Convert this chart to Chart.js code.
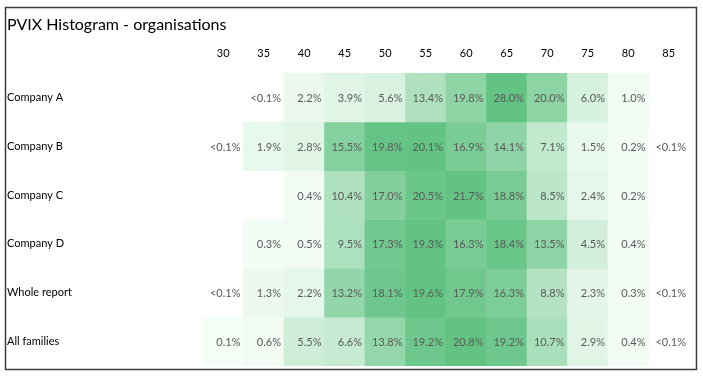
<!DOCTYPE html>
<html>
<head>
<meta charset="utf-8">
<script src="https://cdn.jsdelivr.net/npm/chart.js@4.4.1/dist/chart.umd.min.js"></script>
<style>
  html, body { margin: 0; padding: 0; background: #fff; }
</style>
</head>
<body>
<canvas id="heat" width="703" height="379"></canvas>
<script>
const buckets = ['30', '35', '40', '45', '50', '55', '60', '65', '70', '75', '80', '85'];
const rows = ['Company A', 'Company B', 'Company C', 'Company D', 'Whole report', 'All families'];

// '<0.1' = shown as text only, null = empty cell
const companyA   = [null,   '<0.1', 2.2, 3.9,  5.6,  13.4, 19.8, 28.0, 20.0, 6.0, 1.0, null];
const companyB   = ['<0.1', 1.9,    2.8, 15.5, 19.8, 20.1, 16.9, 14.1, 7.1,  1.5, 0.2, '<0.1'];
const companyC   = [null,   null,   0.4, 10.4, 17.0, 20.5, 21.7, 18.8, 8.5,  2.4, 0.2, null];
const companyD   = [null,   0.3,    0.5, 9.5,  17.3, 19.3, 16.3, 18.4, 13.5, 4.5, 0.4, null];
const wholeReport = ['<0.1', 1.3,   2.2, 13.2, 18.1, 19.6, 17.9, 16.3, 8.8,  2.3, 0.3, '<0.1'];
const allFamilies = [0.1,   0.6,    5.5, 6.6,  13.8, 19.2, 20.8, 19.2, 10.7, 2.9, 0.4, '<0.1'];

const table = [companyA, companyB, companyC, companyD, wholeReport, allFamilies];

const FONT = 'Lato, "Noto Sans", sans-serif';
const lowColor = [245, 253, 247];
const highColor = [99, 195, 131];

function cellColor(v, max) {
    const t = Math.max(0, Math.min(1, v / max));
    const c = lowColor.map((lo, k) => Math.round(lo + (highColor[k] - lo) * t));
    return `rgb(${c[0]}, ${c[1]}, ${c[2]})`;
}

const datasets = table.map((vals, i) => {
    const max = Math.max(...vals.filter(v => typeof v === 'number'));
    return {
        label: rows[i],
        data: vals.map(v => typeof v === 'number' ? [i - 0.5, i + 0.5] : null),
        backgroundColor: vals.map(v => typeof v === 'number' ? cellColor(v, max) : 'rgba(0,0,0,0)'),
        borderWidth: 0,
        grouped: false,
        barPercentage: 1,
        categoryPercentage: 1
    };
});

const framePlugin = {
    id: 'frame',
    beforeDraw(chart) {
        const ctx = chart.ctx;
        ctx.save();
        ctx.fillStyle = '#fff';
        ctx.fillRect(0, 0, chart.width, chart.height);
        ctx.restore();
    },
    afterDraw(chart) {
        const ctx = chart.ctx;
        ctx.save();
        ctx.strokeStyle = '#3c3c3c';
        ctx.lineWidth = 1.5;
        ctx.strokeRect(5.5, 7.5, 691, 362);
        ctx.restore();
    }
};

const cellLabels = {
    id: 'cellLabels',
    afterDatasetsDraw(chart) {
        const ctx = chart.ctx;
        const xs = chart.scales.x, ys = chart.scales.y;
        const colW = xs.width / buckets.length;
        ctx.save();
        ctx.font = '11px ' + FONT;
        ctx.fillStyle = '#595959';
        ctx.textAlign = 'right';
        ctx.textBaseline = 'middle';
        table.forEach((vals, i) => {
            vals.forEach((v, j) => {
                if (v === null) return;
                const txt = typeof v === 'number' ? v.toFixed(1) + '%' : v + '%';
                ctx.fillText(txt, xs.getPixelForValue(j) + colW / 2 - 3, ys.getPixelForValue(i) + 1);
            });
        });
        ctx.restore();
    }
};

new Chart(document.getElementById('heat'), {
    type: 'bar',
    data: { labels: buckets, datasets: datasets },
    options: {
        responsive: false,
        animation: false,
        devicePixelRatio: 1,
        layout: { padding: { left: 7, right: 14, top: 7, bottom: 13 } },
        scales: {
            x: {
                position: 'top',
                grid: { display: false, drawTicks: false },
                border: { display: false },
                ticks: { color: '#000', font: { family: FONT, size: 11 }, padding: 13, maxRotation: 0 },
                afterFit(scale) { scale.height = 38.8; }
            },
            y: {
                reverse: true,
                min: -0.5,
                max: 5.5,
                grid: { display: false, drawTicks: false },
                border: { display: false },
                afterBuildTicks(scale) { scale.ticks = rows.map((r, i) => ({ value: i })); },
                ticks: {
                    color: '#000',
                    font: { family: FONT, size: 11 },
                    crossAlign: 'far',
                    padding: 0,
                    callback: (v) => rows[v]
                },
                afterFit(scale) { scale.width = 196; }
            }
        },
        plugins: {
            legend: { display: false },
            tooltip: { enabled: false },
            title: {
                display: true,
                text: 'PVIX Histogram - organisations',
                align: 'start',
                color: '#000',
                font: { family: FONT, size: 16, weight: 'normal' },
                padding: { top: 8, bottom: 0 }
            }
        }
    },
    plugins: [framePlugin, cellLabels]
});
</script>
</body>
</html>
